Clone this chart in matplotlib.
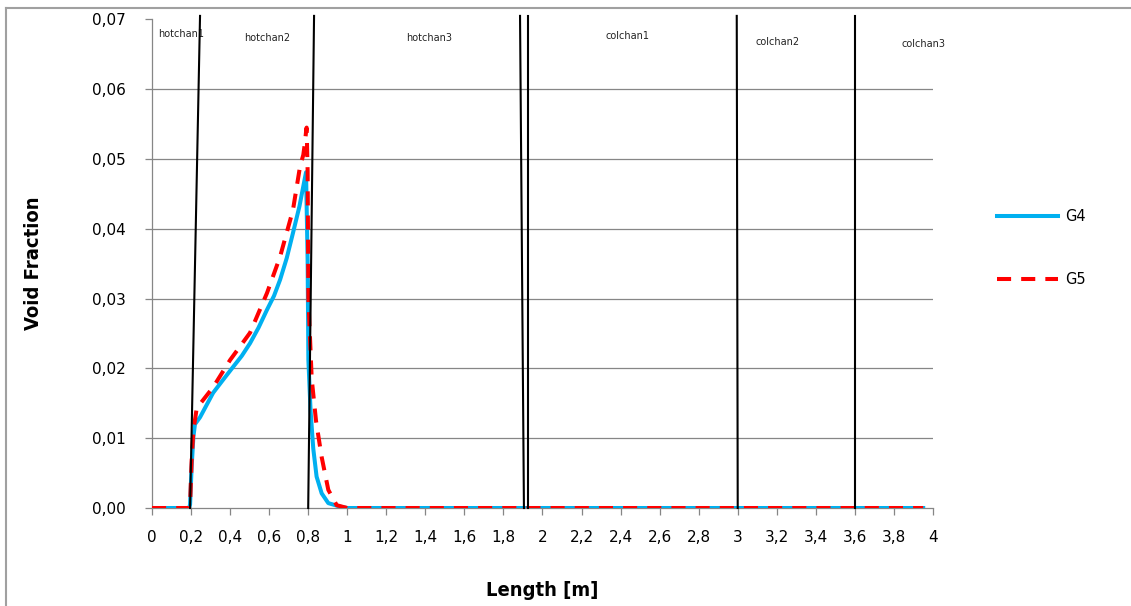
import matplotlib
matplotlib.use('Agg')
import matplotlib.pyplot as plt
from matplotlib.lines import Line2D
from matplotlib.ticker import FuncFormatter, MultipleLocator

# ── data ─────────────────────────────────────────────────────────────────────
g4_x = [0, 0.19, 0.195, 0.203, 0.212, 0.22, 0.246, 0.313, 0.365, 0.415, 0.46,
        0.502, 0.545, 0.589, 0.625, 0.656, 0.69, 0.722, 0.755, 0.784, 0.789,
        0.797, 0.801, 0.812, 0.826, 0.843, 0.869, 0.903, 0.963, 1.0, 3.95]
g4_y = [0, 0, 0.0005, 0.0059, 0.0102, 0.0120, 0.0130, 0.0165, 0.0184, 0.0202,
        0.0218, 0.0236, 0.0258, 0.0284, 0.0304, 0.0327, 0.0358, 0.0394, 0.0432,
        0.0474, 0.0481, 0.0355, 0.0212, 0.0140, 0.0085, 0.0045, 0.0021, 0.0007,
        0.0002, 0, 0]

g5_x = [0, 0.19, 0.195, 0.203, 0.212, 0.229, 0.313, 0.40, 0.502, 0.589, 0.656,
        0.722, 0.758, 0.775, 0.784, 0.790, 0.792, 0.797, 0.801, 0.818, 0.84,
        0.869, 0.903, 0.946, 1.0, 3.95]
g5_y = [0, 0, 0.0005, 0.0068, 0.0111, 0.0143, 0.0173, 0.0212, 0.0251, 0.0308,
        0.0360, 0.0427, 0.0489, 0.0506, 0.0525, 0.0542, 0.0545, 0.0484, 0.0300,
        0.0185, 0.0125, 0.0073, 0.0026, 0.0004, 0, 0]

# channel separators: x at y=0 and x at the top
sep_x_bottom = [0.195, 0.800, 1.905, 1.925, 3.000, 3.600]
sep_x_top = [0.246, 0.830, 1.885, 1.925, 2.995, 3.600]

chan_names = ['hotchan1', 'hotchan2', 'hotchan3', 'colchan1', 'colchan2', 'colchan3']
chan_x = [0.151, 0.592, 1.418, 2.434, 3.204, 3.954]
chan_y = [0.0679, 0.0673, 0.0673, 0.0676, 0.0668, 0.0665]

BLUE = '#00b0f0'
RED = '#ff0000'
GRID = '#868686'
NARROW = ['DejaVu Sans']

fig = plt.figure(figsize=(11.31, 6.06), dpi=100)
ax = fig.add_axes([0.1344, 0.1617, 0.6905, 0.8063])

for yv in [0.01, 0.02, 0.03, 0.04, 0.05, 0.06]:
    ax.axhline(yv, color=GRID, linewidth=0.9, zorder=0)

ax.plot(g4_x, g4_y, color=BLUE, linewidth=2.9, label='G4', zorder=3,
        solid_joinstyle='round')
ax.plot(g5_x, g5_y, color=RED, linewidth=2.9, linestyle=(0, (3.5, 2.5)),
        label='G5', zorder=4)

for xb, xt in zip(sep_x_bottom, sep_x_top):
    ax.plot([xb, xt], [0, 0.0705], color='black', linewidth=1.5, zorder=5,
            clip_on=False)

for name, cx, cy in zip(chan_names, chan_x, chan_y):
    ax.text(cx, cy, name, ha='center', va='center', fontsize=7, color='#222222')

ax.set_xlim(0, 4)
ax.set_ylim(0, 0.07)
ax.xaxis.set_major_locator(MultipleLocator(0.2))
ax.yaxis.set_major_locator(MultipleLocator(0.01))
ax.xaxis.set_major_formatter(FuncFormatter(
    lambda v, p: f'{v:.1f}'.rstrip('0').rstrip('.').replace('.', ',')))
ax.yaxis.set_major_formatter(FuncFormatter(lambda v, p: f'{v:.2f}'.replace('.', ',')))

for s in ['top', 'right']:
    ax.spines[s].set_visible(False)
for s in ['left', 'bottom']:
    ax.spines[s].set_color(GRID)
    ax.spines[s].set_linewidth(0.9)
ax.tick_params(axis='both', direction='out', length=5, color=GRID, width=0.9,
               labelsize=11, labelcolor='black')
ax.tick_params(axis='y', pad=14)
ax.tick_params(axis='x', pad=11)

ax.set_xlabel('Length [m]', fontsize=14.5, fontweight='bold', family=NARROW,
              fontstretch='condensed', labelpad=26)
ax.set_ylabel('Void Fraction', fontsize=14.5, fontweight='bold', family=NARROW,
              fontstretch='condensed', labelpad=35)

leg = ax.legend(loc='upper left', bbox_to_anchor=(0.8695, 0.677),
                bbox_transform=fig.transFigure, frameon=False, fontsize=10.5,
                handlelength=4.2, labelspacing=3.3, handletextpad=0.5)

# chart-area border (Excel style)
fig.add_artist(Line2D([6 / 1131, 6 / 1131], [0, 1 - 8 / 606],
                      transform=fig.transFigure, color='#a0a0a0', linewidth=1.5))
fig.add_artist(Line2D([6 / 1131, 1], [1 - 8 / 606, 1 - 8 / 606],
                      transform=fig.transFigure, color='#a0a0a0', linewidth=1.5))

fig.savefig('out.png', dpi=100)
